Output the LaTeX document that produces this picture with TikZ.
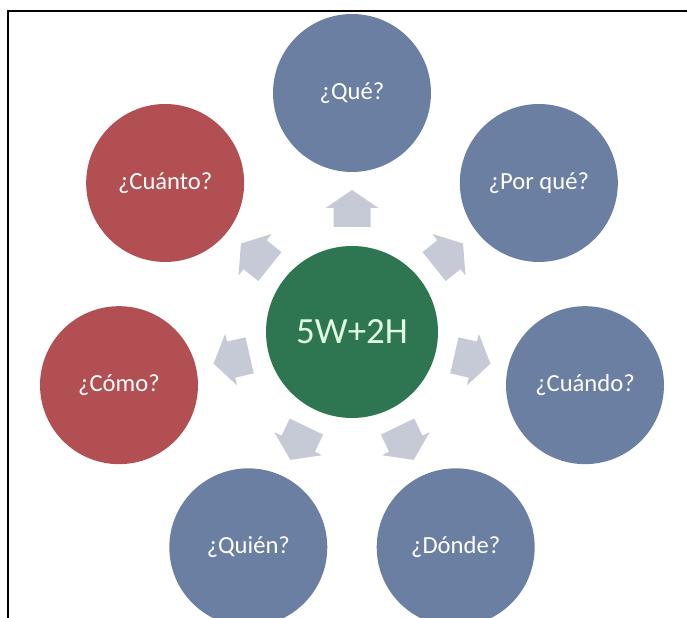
\documentclass[tikz,border=0pt]{standalone}
\usepackage{fontspec}
\setmainfont{Carlito}
\usetikzlibrary{calc}

\definecolor{wblue}{HTML}{6B7FA2}
\definecolor{hred}{HTML}{B24F52}
\definecolor{coregreen}{HTML}{2E7651}
\definecolor{arrowgray}{HTML}{C5CAD6}

\tikzset{
  question/.style={circle, minimum size=3.16cm, inner sep=0pt, text=white,
    font=\fontsize{14}{16}\selectfont},
  wq/.style={question, fill=wblue},
  hq/.style={question, fill=hred},
  corebox/.style={circle, minimum size=3.44cm, inner sep=0pt, fill=coregreen,
    text=white!88!green, font=\fontsize{21}{24}\selectfont},
}

\begin{document}
\begin{tikzpicture}[x=0.02cm,y=0.02cm]
        \useasboundingbox (0,0) rectangle (687,618);
        \draw[line width=0.9pt] (8,0) -- (8,607) -- (687,607);

        \node[corebox] (core) at (352,286) {5W+2H};

        % las 5W
        \node[wq] (que)    at ($(core)+(90:239)$)      {¿Qué?};
        \node[wq] (porque) at ($(core)+(38.571:239)$)  {¿Por qué?};
        \node[wq] (cuando) at ($(core)+(-12.857:239)$) {¿Cuándo?};
        \node[wq] (donde)  at ($(core)+(-64.286:239)$) {¿Dónde?};
        \node[wq] (quien)  at ($(core)+(-115.714:239)$) {¿Quién?};

        % las 2H
        \node[hq] (como)   at ($(core)+(192.857:239)$) {¿Cómo?};
        \node[hq] (cuanto) at ($(core)+(141.429:239)$) {¿Cuánto?};

        \foreach \a in {90, 38.571, -12.857, -64.286, -115.714, 192.857, 141.429}
            \fill[arrowgray, shift={(core)}, rotate=\a]
                (105,-18.5) -- (124,-18.5) -- (124,-26.5) -- (142,0)
                -- (124,26.5) -- (124,18.5) -- (105,18.5) -- cycle;

\end{tikzpicture}
\end{document}
